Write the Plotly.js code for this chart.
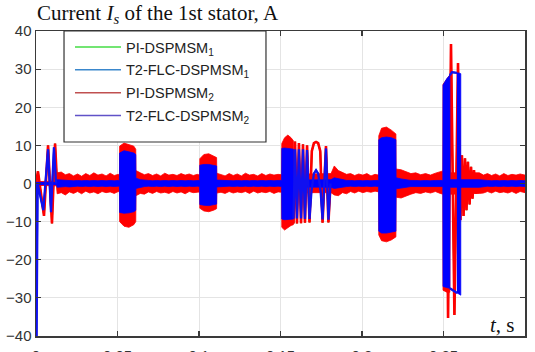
<!DOCTYPE html>
<html>
<head>
<meta charset="utf-8">
<script src="https://cdn.plot.ly/plotly-3.0.1.min.js"></script>
<style>html,body{margin:0;padding:0;background:#fff;}#chart{width:535px;height:352px;}</style>
</head>
<body>
<div id="chart"></div>
<script>
// ---- data ----
// envelope of the dense oscillation (time in s, current in A)
const tEnv = [0.0000,0.0125,0.0130,0.0155,0.0180,0.0205,0.0230,0.0255,0.0280,0.0305,0.0330,0.0355,0.0380,0.0405,0.0430,0.0455,0.0480,0.0505,0.0512,
  0.0513,0.0540,0.0570,0.0600,0.0612,0.0613,0.0640,0.0665,0.0690,0.0715,0.0740,0.0765,0.0790,0.0815,0.0840,0.0865,0.0890,0.0915,0.0940,0.0965,0.0990,0.1004,
  0.1005,0.1030,0.1060,0.1090,0.1108,0.1109,0.1135,0.1160,0.1185,0.1210,0.1235,0.1260,0.1285,0.1310,0.1335,0.1360,0.1385,0.1410,0.1435,0.1460,0.1485,0.1507,
  0.1508,0.1525,0.1545,0.1565,0.1579,0.1580,0.1810,0.1830,0.1855,0.1880,0.1905,0.1930,0.1955,0.1980,0.2005,0.2030,0.2055,0.2080,0.2102,
  0.2103,0.2120,0.2150,0.2180,0.2208,0.2209,0.2240,0.2270,0.2300,0.2330,0.2360,0.2390,0.2420,0.2450,0.2480,0.2496,
  0.2497,0.2520,0.2539,0.2540,0.2720,0.2745,0.2770,0.2795,0.2820,0.2845,0.2870,0.2895,0.2920,0.2945,0.2970,0.3000];
const redUp = [0.5,0.6,2.8,3.0,2.3,2.6,2.0,2.5,1.9,2.6,2.1,2.8,2.2,2.5,2.0,2.7,2.1,2.4,2.2,
  9.8,10.6,10.2,9.8,9.0,3.4,2.8,2.3,2.6,2.1,2.5,2.0,2.7,2.2,2.4,2.1,2.6,2.2,2.5,2.1,2.4,2.2,
  6.5,7.6,7.8,7.2,6.8,2.7,2.4,2.0,2.6,2.1,2.5,2.0,2.7,2.2,2.4,2.0,2.6,2.1,2.5,2.2,2.4,2.3,
  10.5,12.0,12.7,12.0,11.2,2.4,2.6,4.6,3.4,2.8,2.4,2.6,2.1,2.5,2.2,2.6,2.0,2.4,2.2,
  12.5,14.5,14.8,14.0,13.0,3.8,3.6,3.0,2.6,2.8,2.3,2.6,2.2,2.7,3.0,3.3,
  26.0,27.5,28.5,2.8,2.8,2.2,2.6,2.1,2.5,2.0,2.6,2.1,2.4,2.2,2.5,2.2];
const redLo = [-0.5,-0.6,-2.7,-2.4,-3.0,-2.2,-2.6,-2.1,-2.7,-2.0,-2.5,-2.2,-2.7,-2.1,-2.4,-2.2,-2.6,-2.1,-2.4,
  -10.0,-11.2,-11.5,-10.8,-10.0,-3.2,-2.6,-2.8,-2.2,-2.6,-2.1,-2.5,-2.3,-2.6,-2.1,-2.5,-2.2,-2.7,-2.1,-2.4,-2.3,-2.2,
  -6.5,-7.2,-7.4,-7.0,-6.6,-2.5,-2.3,-2.6,-2.1,-2.5,-2.2,-2.4,-2.1,-2.6,-2.0,-2.5,-2.2,-2.4,-2.1,-2.6,-2.2,-2.3,
  -11.5,-12.2,-11.6,-11.0,-10.8,-2.4,-2.4,-3.0,-3.2,-2.4,-2.7,-2.1,-2.5,-2.0,-2.4,-2.1,-2.3,-2.0,-2.2,
  -13.5,-15.0,-15.3,-14.8,-14.0,-3.6,-3.8,-3.3,-2.8,-2.4,-2.6,-2.2,-2.5,-2.1,-2.6,-2.8,
  -28.0,-28.5,-28.5,-2.8,-2.6,-2.5,-2.1,-2.5,-2.0,-2.4,-2.2,-2.5,-2.1,-2.6,-2.1,-2.4];
const blueUp = [0.3,0.3,1.0,0.9,0.8,0.8,0.7,0.8,0.7,0.8,0.7,0.8,0.7,0.8,0.7,0.8,0.7,0.8,0.8,
  8.0,8.6,8.3,8.0,7.6,1.4,1.0,0.8,0.8,0.7,0.8,0.7,0.8,0.7,0.8,0.7,0.8,0.7,0.8,0.7,0.8,0.8,
  4.8,5.0,5.0,4.8,4.6,0.9,0.8,0.7,0.8,0.7,0.8,0.7,0.8,0.7,0.8,0.7,0.8,0.7,0.8,0.7,0.8,0.8,
  9.2,9.3,9.2,9.0,9.0,0.9,1.0,1.5,1.2,1.0,0.8,0.8,0.7,0.8,0.7,0.8,0.7,0.8,0.8,
  11.5,12.0,12.2,12.0,11.5,1.5,1.2,1.0,0.8,0.8,0.7,0.8,0.7,0.8,0.8,0.8,
  25.8,27.5,28.4,1.0,1.0,0.8,0.8,0.7,0.8,0.7,0.8,0.7,0.8,0.7,0.8,0.7];
const blueLo = [-0.3,-0.3,-1.0,-0.9,-0.8,-0.9,-0.8,-0.7,-0.8,-0.7,-0.8,-0.7,-0.8,-0.7,-0.8,-0.7,-0.8,-0.7,-0.8,
  -7.6,-7.8,-7.7,-7.4,-7.0,-1.3,-1.0,-0.8,-0.7,-0.8,-0.7,-0.8,-0.7,-0.8,-0.7,-0.8,-0.7,-0.8,-0.7,-0.8,-0.7,-0.8,
  -5.5,-5.7,-5.8,-5.6,-5.4,-0.9,-0.8,-0.8,-0.7,-0.8,-0.7,-0.8,-0.7,-0.8,-0.7,-0.8,-0.7,-0.8,-0.7,-0.8,-0.7,-0.8,
  -9.3,-9.5,-9.5,-9.4,-9.3,-0.9,-1.0,-1.3,-1.1,-1.0,-0.8,-0.7,-0.8,-0.7,-0.8,-0.7,-0.8,-0.7,-0.8,
  -12.5,-13.0,-13.0,-12.8,-12.5,-1.4,-1.2,-1.0,-0.8,-0.7,-0.8,-0.7,-0.8,-0.7,-0.8,-0.8,
  -27.0,-27.3,-27.5,-1.0,-1.0,-0.8,-0.7,-0.8,-0.7,-0.8,-0.7,-0.8,-0.7,-0.8,-0.7,-0.8];

// second blue block of the 0.25 s transient
const blueBlock2T = [0.2582,0.2595,0.2606];
const blueBlock2Up = [29.0,29.0,28.8];
const blueBlock2Lo = [-28.7,-29.0,-29.3];

// individually visible swings (null separates the transients)
const redSwingT = [0,0.0012,0.0049,0.0074,0.0098,0.0117,0.0129,null,
  0.1580,0.1589,0.1601,0.1613,0.1626,0.1638,0.1650,0.1663,0.1678,0.1692,0.1705,0.1718,0.1731,0.1744,0.1758,0.1779,0.1794,0.1807,null,
  0.2522,0.2528,0.2546,0.2567,0.2589,0.2604,0.2613,0.2623,0.2632,0.2641,0.2650,0.2660,0.2669,0.2678,0.2687,0.2699,0.2712];
const redSwingV = [0,3.2,-8.5,10.0,-10.5,10.5,0,null,
  -10.5,11.0,-10.5,10.6,-10.4,10.3,-10.3,10.0,-10.2,8.5,10.6,10.9,10.6,8.5,-10.3,9.8,-10.2,0,null,
  0,-35.3,36.6,-34.5,31.6,-9.6,7.4,-8.5,6.6,-7.0,5.7,-5.5,4.4,-4.0,3.5,-2.6,0];
const blueSwingT = [0,0.0003,0.0010,0.0045,0.0074,0.0092,0.0110,0.0123,null,
  0.1580,0.1589,0.1601,0.1613,0.1626,0.1638,0.1650,0.1663,0.1678,0.1690,0.1705,0.1718,0.1731,0.1746,0.1758,0.1779,0.1794,0.1807,null,
  0.2539,0.2552,0.2583,null,0.2539,0.2583];
const blueSwingV = [0,-44,0,-7.0,9.0,-7.5,9.5,0,null,
  -9.2,9.0,-9.2,9.0,-9.2,9.0,-9.3,8.8,-9.3,-2.0,2.6,3.5,2.6,-2.0,-9.4,9.2,-9.5,0,null,
  28.4,29.2,29.0,null,-27.5,-28.7];

const seriesNames = ['PI-DSPMSM<sub>1</sub>','T2-FLC-DSPMSM<sub>1</sub>','PI-DSPMSM<sub>2</sub>','T2-FLC-DSPMSM<sub>2</sub>'];
const xTicks = [0,0.05,0.1,0.15,0.2,0.25,0.3];
const xTickText = ['0','0.05','0.1','0.15','0.2','0.25','0.3'];
const yTicks = [-40,-30,-20,-10,0,10,20,30,40];

// ---- build traces ----
const rev = a => a.slice().reverse();
const bandX = tEnv.concat(rev(tEnv));
const legendColors = ['#44dd44','#3a87cc','#c05050','#6052c8'];
const legendData = [[redSwingT,redSwingV],[blueSwingT,blueSwingV],[redSwingT,redSwingV],[blueSwingT,blueSwingV]];
const traces = [];
for (let i = 0; i < 4; i++) {
  traces.push({type:'scatter', mode:'lines', name:seriesNames[i], x:legendData[i][0], y:legendData[i][1],
    line:{color:legendColors[i], width:1.5}, legendgroup:'g'+i, hoverinfo:'skip'});
}
traces.push({type:'scatter', mode:'lines', x:bandX, y:redUp.concat(rev(redLo)), fill:'toself',
  fillcolor:'#ff0000', line:{color:'#ff0000', width:0.8}, showlegend:false, hoverinfo:'skip'});
traces.push({type:'scatter', mode:'lines', x:redSwingT, y:redSwingV, connectgaps:false,
  line:{color:'#ff0000', width:2.6}, showlegend:false, hoverinfo:'skip'});
traces.push({type:'scatter', mode:'lines', x:bandX, y:blueUp.concat(rev(blueLo)), fill:'toself',
  fillcolor:'#0000ff', line:{color:'#0000ff', width:0.8}, showlegend:false, hoverinfo:'skip'});
traces.push({type:'scatter', mode:'lines', x:blueBlock2T.concat(rev(blueBlock2T)), y:blueBlock2Up.concat(rev(blueBlock2Lo)), fill:'toself',
  fillcolor:'#0000ff', line:{color:'#0000ff', width:0.8}, showlegend:false, hoverinfo:'skip'});
traces.push({type:'scatter', mode:'lines', x:blueSwingT, y:blueSwingV, connectgaps:false,
  line:{color:'#1010f0', width:2.3}, showlegend:false, hoverinfo:'skip'});

const axisCommon = {
  showline:true, linecolor:'#3a3a3a', linewidth:1.5, mirror:'allticks',
  ticks:'inside', ticklen:5, tickwidth:1.2, tickcolor:'#3a3a3a',
  showgrid:true, gridcolor:'#e4e4e4', gridwidth:1, zeroline:false,
  tickfont:{family:'Liberation Sans, Arial, sans-serif', size:15, color:'#333333'}
};

const layout = {
  width:535, height:352,
  margin:{l:36, r:10, t:31, b:16},
  paper_bgcolor:'#ffffff', plot_bgcolor:'#ffffff',
  showlegend:true,
  xaxis:Object.assign({}, axisCommon, {range:[0,0.3], tickmode:'array', tickvals:xTicks, ticktext:xTickText, ticklabelstandoff:5}),
  yaxis:Object.assign({}, axisCommon, {range:[-40,40], tickmode:'array', tickvals:yTicks}),
  shapes:[{type:'rect', xref:'paper', yref:'paper', x0:0.0573, x1:0.4703, y0:0.636, y1:1, layer:'above',
    fillcolor:'#ffffff', line:{color:'#333333', width:1.2}}],
  legend:{x:0.0695, y:1, xanchor:'left', yanchor:'top', bgcolor:'rgba(0,0,0,0)', borderwidth:0,
    font:{family:'Liberation Sans, Arial, sans-serif', size:14.5, color:'#222222'},
    traceorder:'grouped', tracegroupgap:1, itemwidth:46},
  annotations:[
    {xref:'paper', yref:'paper', x:0.2485, y:1.056, xanchor:'center', yanchor:'middle', showarrow:false,
     text:'Current <i>I<sub>s</sub></i> of the 1st stator, A', font:{family:'Liberation Serif, Times New Roman, serif', size:21, color:'#111111'}},
    {xref:'paper', yref:'paper', x:0.955, y:0.036, xanchor:'center', yanchor:'middle', showarrow:false,
     text:'<i>t</i>, s', font:{family:'Liberation Serif, Times New Roman, serif', size:21, color:'#111111'}}]
};

Plotly.newPlot('chart', traces, layout, {staticPlot:true, displayModeBar:false});
</script>
</body>
</html>
